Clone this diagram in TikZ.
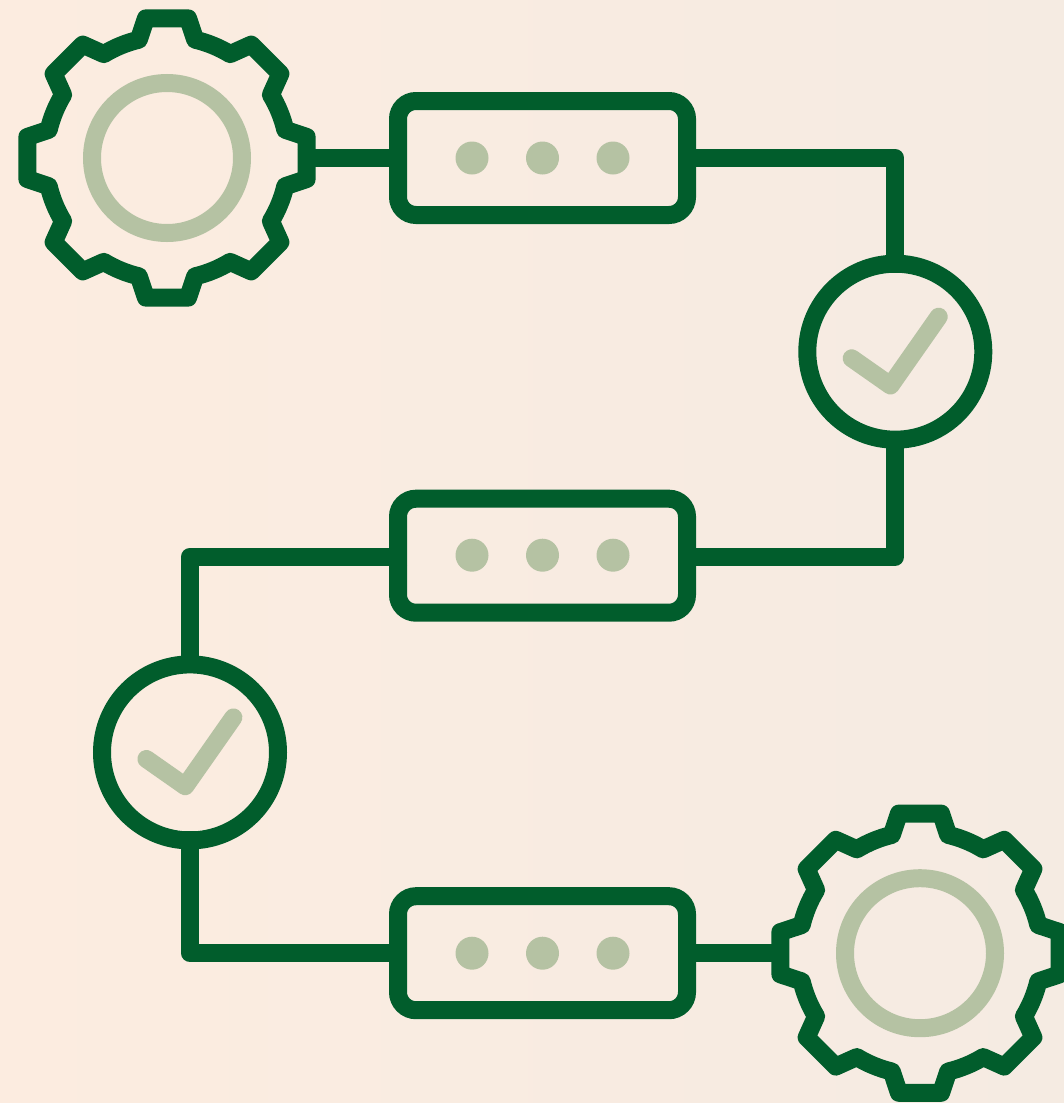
\documentclass[tikz,border=0pt]{standalone}
\definecolor{pinegreen}{RGB}{1,93,44}
\definecolor{sagegreen}{RGB}{181,194,163}
\definecolor{peachleft}{RGB}{252,236,224}
\definecolor{peachright}{RGB}{245,235,226}
\tikzset{
	gearline/.style={draw=pinegreen, line width=18pt, line join=round},
	link/.style={gearline, shorten <=-9pt, shorten >=-9pt},
	panel/.style={draw=pinegreen, line width=18pt, rectangle, rounded corners=18pt, minimum width=289pt, minimum height=114pt, inner sep=0pt, outer sep=0pt},
	dotmark/.style={fill=sagegreen, circle, minimum size=33pt, inner sep=0pt, outer sep=0pt},
	ring/.style={draw=sagegreen, line width=18pt, circle, minimum size=150pt, inner sep=0pt, outer sep=0pt},
	dial/.style={draw=pinegreen, line width=18pt, circle, minimum size=176pt, inner sep=0pt, outer sep=0pt},
	gearrim/.style={circle, minimum size=279.4pt, inner sep=0pt, outer sep=0pt},
	tick/.pic={\draw[draw=sagegreen, line width=18pt, line cap=round, line join=round] (-43.6,6.6) -- (-4.8,33.8) -- (43.4,-35);},
	gear/.pic={\draw[gearline] (103.4:121.6) \foreach \tooth/\tip/\base/\nextbase in {90/8.6/13.4/13.7, 45/8.4/13.7/13.4, 0/8.6/13.4/13.7, -45/8.4/13.7/13.4, -90/8.6/13.4/13.7, -135/8.4/13.7/13.4, -180/8.6/13.4/13.7, -225/8.4/13.7/13.4} { -- ({\tooth+\base}:121.6) -- ({\tooth+\tip}:141.2) -- ({\tooth-\tip}:141.2) -- ({\tooth-\base}:121.6) arc ({\tooth-\base}:{\tooth-45+\nextbase}:121.6)} -- cycle;}
}

\begin{document}
\begin{tikzpicture}[x=1pt, y=-1pt]
	\useasboundingbox (0, 0) rectangle (1064, 1103);
	\shade[left color=peachleft, right color=peachright] (0, 0) rectangle (1064, 1103);

	%%%%% GEARS %%%%%
	\node[gearrim] (gearA) at (167, 158) {};
	\node[ring] (ringA) at (gearA) {};
	\pic at (gearA) {gear};

	\node[gearrim] (gearB) at (920, 953.2) {};
	\node[ring] (ringB) at (gearB) {};
	\pic at (gearB) {gear};

	%%%%% PANELS %%%%%
	\foreach \row/\ypos/\ydots in {A/158/158, B/555.7/555.2, C/953.2/953.2} {
		\node[panel] (panel\row) at (542.5, \ypos) {};
		\node[dotmark] (dot\row a) at (472, \ydots) {};
		\node[dotmark] (dot\row b) at (542.5, \ydots) {};
		\node[dotmark] (dot\row c) at (613, \ydots) {};
	}

	%%%%% DIALS %%%%%
	\node[dial] (dialA) at (895.3, 351.7) {};
	\pic at (dialA) {tick};
	\node[dial] (dialB) at (190, 752.4) {};
	\pic at (dialB) {tick};

	%%%%% LINKS %%%%%
	\draw[link] (gearA.east) -- (panelA.west);
	\draw[link] (panelA.east) -| (dialA.north);
	\draw[link] (dialA.south) |- ([yshift=-1pt]panelB.east);
	\draw[link] ([yshift=-1pt]panelB.west) -| (dialB.north);
	\draw[link] (dialB.south) |- (panelC.west);
	\draw[link] (panelC.east) -- (gearB.west);
\end{tikzpicture}
\end{document}
